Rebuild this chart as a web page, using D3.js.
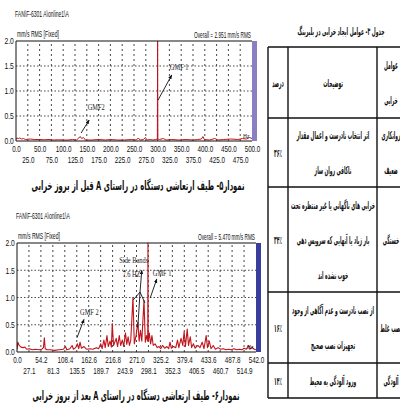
<!DOCTYPE html>
<html>
<head>
<meta charset="utf-8">
<script src="https://cdn.jsdelivr.net/npm/d3@7"></script>
<style>
  body { margin: 0; background: #fff; }
  svg { display: block; }
  .num { font-family: "Liberation Sans", Arial, sans-serif; font-size: 9px; fill: #111; }
  .ann { font-family: "Liberation Serif", serif; font-size: 8px; fill: #222; }
  .fa { font-family: "DejaVu Sans", sans-serif; fill: #111; direction: rtl; }
</style>
</head>
<body>
<svg id="chart" width="400" height="403"></svg>
<script>
// spectrum before failure (Hz, mm/s RMS)
const spec1Hz  = [0, 2, 5, 8, 12, 16, 20, 30, 40, 50, 60, 70, 80, 90, 100, 110, 120, 128, 133, 136, 139, 143, 147, 160, 175, 190, 200, 215, 230, 245, 255, 259, 263, 270, 274, 278, 285, 290, 296, 299.5, 300, 300.5, 304, 312, 318, 330, 345, 360, 375, 385, 393, 396, 399, 410, 421, 428, 440, 455, 470, 480, 488, 495, 500];
const spec1Amp = [0.03, 0.06, 0.05, 0.06, 0.04, 0.05, 0.03, 0.04, 0.03, 0.03, 0.025, 0.03, 0.02, 0.025, 0.02, 0.02, 0.03, 0.02, 0.06, 0.09, 0.05, 0.07, 0.02, 0.02, 0.03, 0.02, 0.03, 0.02, 0.02, 0.03, 0.02, 0.06, 0.02, 0.03, 0.07, 0.02, 0.03, 0.02, 0.03, 0.04, 2.0, 0.04, 0.03, 0.05, 0.02, 0.03, 0.02, 0.03, 0.02, 0.03, 0.04, 0.09, 0.03, 0.02, 0.05, 0.02, 0.03, 0.04, 0.03, 0.05, 0.04, 0.07, 0.05];

// spectrum after failure (Hz, mm/s RMS)
const spec2Hz  = [0, 2, 5, 9, 14, 18, 22, 28, 35, 42, 50, 56, 60, 62, 64, 68, 75, 85, 95, 105, 110, 113, 120, 125, 128, 133, 137, 140, 143, 146, 152, 158, 165, 172, 180, 185, 190, 193, 197, 200, 204, 207, 211, 214, 216, 219, 225, 228, 232, 235, 239, 242, 246, 249, 252, 255, 258, 263, 266, 270, 274, 277, 280, 283, 288, 291, 294, 296.5, 297, 297.5, 300, 303, 306, 309, 313, 318, 322, 326, 330, 335, 340, 344, 347, 350, 355, 360, 364, 367, 372, 376, 379, 382, 386, 389, 393, 396, 400, 404, 410, 415, 420, 424, 429, 432, 436, 440, 445, 450, 456, 462, 468, 474, 480, 486, 492, 498, 505, 510, 515, 520, 525, 528, 533, 538, 542];
const spec2Amp = [0.05, 0.18, 0.12, 0.09, 0.08, 0.09, 0.05, 0.06, 0.04, 0.05, 0.04, 0.05, 0.08, 0.26, 0.06, 0.04, 0.04, 0.03, 0.04, 0.05, 0.1, 0.04, 0.06, 0.12, 0.05, 0.08, 0.15, 0.06, 0.18, 0.07, 0.1, 0.05, 0.06, 0.05, 0.08, 0.06, 0.15, 0.06, 0.22, 0.08, 0.3, 0.1, 0.2, 0.09, 0.52, 0.12, 0.25, 0.1, 0.3, 0.12, 0.22, 0.1, 0.35, 0.14, 0.28, 0.12, 0.22, 1.0, 0.15, 0.3, 0.55, 0.2, 0.4, 0.2, 0.95, 0.18, 0.3, 0.2, 2.0, 0.2, 0.35, 0.15, 0.3, 0.12, 0.15, 0.08, 0.1, 0.06, 0.12, 0.07, 0.1, 0.06, 0.18, 0.07, 0.1, 0.08, 0.22, 0.08, 0.25, 0.12, 0.37, 0.1, 0.42, 0.12, 0.28, 0.08, 0.15, 0.07, 0.12, 0.08, 0.18, 0.06, 0.3, 0.08, 0.2, 0.06, 0.12, 0.05, 0.08, 0.05, 0.06, 0.04, 0.05, 0.04, 0.06, 0.04, 0.05, 0.04, 0.07, 0.05, 0.12, 0.05, 0.09, 0.05, 0.04];

// axis tick labels
const yTicks = [0, 0.5, 1.0, 1.5, 2.0];
const x1TicksTop = [0, 50, 100, 150, 200, 250, 300, 350, 400, 450, 500];
const x1TicksLow = [25, 75, 125, 175, 225, 275, 325, 375, 425, 475];
const x2TicksTop = [0, 54.2, 108.4, 162.6, 216.8, 271.0, 325.2, 379.4, 433.6, 487.8, 542.0];
const x2TicksLow = [27.1, 81.3, 135.5, 189.7, 243.9, 298.1, 352.3, 406.5, 460.7, 514.9];

// texts
const machineTag = 'FAN\\F-6301 A\\online1\\A';
const unitLabel = 'mm/s RMS [Fixed]';
const overall1 = 'Overall = 2.951 mm/s RMS';
const overall2 = 'Overall = 5.470 mm/s RMS';
const caption1 = 'نمودار۵- طیف ارتعاشی دستگاه در راستای A قبل از بروز خرابی';
const caption2 = 'نمودار۶- طیف ارتعاشی دستگاه در راستای A بعد از بروز خرابی';

// table 3
const tableTitle = 'جدول ۳- عوامل ایجاد خرابی در بلبرینگ';
const factorNames = [['عوامل', 'خرابی'], ['روانکاری', 'ضعیف'], ['خستگی'], ['نصب غلط'], ['آلودگی']];
const factorNotes = [
  ['توضیحات'],
  ['اثر انتخاب نادرست و اعمال مقدار', 'ناکافی روان ساز'],
  ['خرابی های ناگهانی یا غیر منتظره تحت', 'بار زیاد یا آنهایی که سرویس دهی', 'خوب نشده اند'],
  ['از نصب نادرست و عدم آگاهی از وجود', 'تجهیزات نصب صحیح'],
  ['ورود آلودگی به محیط']
];
const factorShares = ['درصد', '۳۶٪', '۳۴٪', '۱۶٪', '۱۴٪'];

const svg = d3.select('#chart');
svg.append('rect').attr('width', 400).attr('height', 403).attr('fill', '#fff');

const defs = svg.append('defs');
defs.append('marker')
  .attr('id', 'arrow')
  .attr('viewBox', '0 0 10 10')
  .attr('refX', 9).attr('refY', 5)
  .attr('markerWidth', 5).attr('markerHeight', 5)
  .attr('orient', 'auto')
  .append('path').attr('d', 'M0,1 L10,5 L0,9 Z').attr('fill', '#111');

// put a text and squeeze it horizontally (to a width, or by a factor)
function putText(parent, txt, x, y, opt) {
  const t = parent.append('text')
    .attr('class', opt.cls || 'num')
    .attr('text-anchor', opt.anchor || 'start')
    .text(txt);
  if (opt.size) t.style('font-size', opt.size + 'px');
  if (opt.weight) t.style('font-weight', opt.weight);
  let s = opt.sx || 1;
  if (opt.width) s = opt.width / t.node().getComputedTextLength();
  t.attr('transform', `translate(${x},${y}) scale(${s},1)`);
  return t;
}

function drawSpectrum(cfg) {
  const x = d3.scaleLinear().domain([0, cfg.xMax]).range([cfg.left, cfg.right]);
  const y = d3.scaleLinear().domain([0, 2]).range([cfg.bottom, cfg.top]);
  const g = svg.append('g');

  // header texts
  putText(g, machineTag, cfg.left - 1, cfg.top - 24, { width: 54, size: 8.5 });
  putText(g, unitLabel, cfg.left + 1, cfg.top - 4, { width: 42, size: 8.5 });
  putText(g, cfg.overall, cfg.right - 1, cfg.top - 3, { width: 57, size: 8.5, anchor: 'end' });

  // grid
  const allTicks = cfg.ticksTop.concat(cfg.ticksLow).filter(v => v > 0 && v < cfg.xMax);
  g.append('g').selectAll('line').data(allTicks).join('line')
    .attr('x1', d => x(d)).attr('x2', d => x(d))
    .attr('y1', y(0)).attr('y2', y(2))
    .attr('stroke', '#333').attr('stroke-width', 0.9).attr('stroke-dasharray', '2,3');
  g.append('g').selectAll('line').data(yTicks.filter(v => v > 0 && v < 2)).join('line')
    .attr('x1', x(0)).attr('x2', x(cfg.xMax))
    .attr('y1', d => y(d)).attr('y2', d => y(d))
    .attr('stroke', '#333').attr('stroke-width', 0.9).attr('stroke-dasharray', '1.5,2');

  // purple band to the right of the plot
  g.append('rect')
    .attr('x', x(cfg.xMax)).attr('y', y(2))
    .attr('width', 5).attr('height', y(0) - y(2))
    .attr('fill', cfg.band);

  // y axis
  const ya = g.append('g')
    .attr('transform', `translate(${x(0)},0)`)
    .call(d3.axisLeft(y).tickValues(yTicks).tickFormat(d3.format('.1f')).tickSize(0).tickPadding(3));
  ya.select('.domain').remove();
  ya.selectAll('text').attr('class', 'num').attr('font-size', null).attr('font-family', null)
    .attr('transform', 'scale(0.75,1)');

  // x axis, two rows of labels
  [[cfg.ticksTop, 5], [cfg.ticksLow, 16]].forEach(([vals, pad]) => {
    const xa = g.append('g')
      .attr('transform', `translate(0,${y(0)})`)
      .call(d3.axisBottom(x).tickValues(vals).tickFormat(d3.format('.1f')).tickSize(0).tickPadding(pad));
    xa.select('.domain').remove();
    xa.selectAll('text').attr('class', 'num').attr('font-size', null).attr('font-family', null)
      .attr('transform', 'scale(0.7,1)');
  });

  // spectrum line
  const clipId = 'clip' + cfg.id;
  defs.append('clipPath').attr('id', clipId)
    .append('rect').attr('x', x(0)).attr('y', y(2) - 1)
    .attr('width', x(cfg.xMax) - x(0)).attr('height', y(0) - y(2) + 2);
  g.append('path')
    .datum(d3.zip(cfg.hz, cfg.amp))
    .attr('clip-path', `url(#${clipId})`)
    .attr('fill', 'none')
    .attr('stroke', '#c0141c')
    .attr('stroke-width', cfg.lw)
    .attr('stroke-linejoin', 'round')
    .attr('d', d3.line().x(d => x(d[0])).y(d => y(d[1])));

  // frame
  g.append('path')
    .attr('d', `M${x(cfg.xMax)},${y(2)}H${x(0)}V${y(0)}H${x(cfg.xMax)}`)
    .attr('fill', 'none').attr('stroke', '#111').attr('stroke-width', 1);

  putText(g, 'Hz', x(cfg.xMax) - 9, y(0) - 3, { size: 7, sx: 0.8, cls: 'ann' });

  // annotations (in data units)
  cfg.arrows.forEach(a => {
    g.append('line')
      .attr('x1', x(a[0])).attr('y1', y(a[1]))
      .attr('x2', x(a[2])).attr('y2', y(a[3]))
      .attr('stroke', '#111').attr('stroke-width', 0.9)
      .attr('marker-end', a[4] ? 'url(#arrow)' : null);
  });
  cfg.notes.forEach(n => putText(g, n[0], x(n[1]), y(n[2]), { cls: 'ann', size: 8, sx: 0.8 }));

  putText(g, cfg.caption, cfg.capX, cfg.capY, { cls: 'fa', size: 13, weight: 'bold', anchor: 'middle', width: cfg.capW });
}

drawSpectrum({
  id: 1, hz: spec1Hz, amp: spec1Amp, xMax: 500,
  left: 16, right: 252, top: 41, bottom: 141,
  ticksTop: x1TicksTop, ticksLow: x1TicksLow,
  overall: overall1, band: '#8a7fc2', lw: 1,
  arrows: [[301, 0.82, 330, 1.32, true], [138, 0.16, 155, 0.42, true]],
  notes: [['GMF 1', 326, 1.42], ['GMF2', 152, 0.62]],
  caption: caption1, capX: 138, capY: 190, capW: 213
});

drawSpectrum({
  id: 2, hz: spec2Hz, amp: spec2Amp, xMax: 542,
  left: 17, right: 256, top: 243, bottom: 352,
  ticksTop: x2TicksTop, ticksLow: x2TicksLow,
  overall: overall2, band: '#3b3d9c', lw: 1.1,
  arrows: [
    [302, 0.99, 317, 1.34, true], [136, 0.26, 152, 0.6, true],
    [279, 1.1, 283, 1.5, true], [279, 1.1, 263, 0.95, false],
    [279, 1.1, 290, 0.9, false], [279, 1.1, 274, 0.45, false]
  ],
  notes: [['GMF 1', 308, 1.4], ['GMF 2', 143, 0.68], ['Side Bands', 232, 1.64], ['7.6 HZ', 239, 1.38]],
  caption: caption2, capX: 136, capY: 400, capW: 207
});

// ---- table 3 ----
const tbl = svg.append('g');
const rowLines = [47, 118, 187, 292, 363, 398];
const colLeft = 268, colShare = 288, colNote = 377;
const tblRight = 400;

putText(tbl, tableTitle, 341, 35, { cls: 'fa', size: 10.5, weight: 'bold', anchor: 'middle', width: 87 });

rowLines.forEach(yy => {
  tbl.append('line').attr('x1', colLeft).attr('x2', tblRight + 5)
    .attr('y1', yy).attr('y2', yy).attr('stroke', '#111').attr('stroke-width', 1.6);
});
[colLeft, colShare, colNote].forEach(xx => {
  tbl.append('line').attr('x1', xx).attr('x2', xx)
    .attr('y1', rowLines[0]).attr('y2', rowLines[rowLines.length - 1])
    .attr('stroke', '#111').attr('stroke-width', 1.4);
});

// common squeeze factor from the longest description line
const probe = putText(tbl, factorNotes[2][0], 0, -50, { cls: 'fa', size: 11, weight: 'bold' });
const sq = 84 / probe.node().getComputedTextLength();
probe.remove();

function cellLines(lines, cx, r) {
  const top = rowLines[r], h = rowLines[r + 1] - rowLines[r];
  lines.forEach((ln, i) => {
    const cy = top + h * (i + 0.5) / lines.length;
    putText(tbl, ln, cx, cy + 4, { cls: 'fa', size: 11, weight: 'bold', anchor: 'middle', sx: sq });
  });
}
factorNames.forEach((l, r) => cellLines(l, 391, r));
factorNotes.forEach((l, r) => cellLines(l, 333, r));
factorShares.forEach((l, r) => cellLines([l], 278, r));
</script>
</body>
</html>
